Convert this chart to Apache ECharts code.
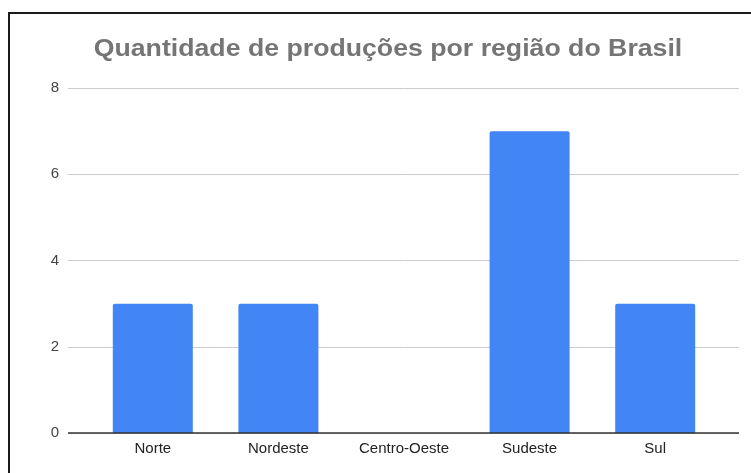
<!DOCTYPE html>
<html><head><meta charset="utf-8">
<script src="https://cdn.jsdelivr.net/npm/echarts@6/dist/echarts.min.js"></script>
<style>
html,body{margin:0;padding:0;background:#fff;}
#frame{position:absolute;left:8px;top:12px;width:800px;height:500px;border-top:2px solid #1a1a1a;border-left:2px solid #1a1a1a;}
#c{position:absolute;left:0;top:0;width:751px;height:473px;}
</style></head>
<body>
<div id="frame"></div>
<div id="c"></div>
<script>
const titleText = 'Quantidade de produções por região do Brasil';
const categories = ['Norte', 'Nordeste', 'Centro-Oeste', 'Sudeste', 'Sul'];
const values = [3, 3, 0, 7, 3];
const yTicks = [0, 2, 4, 6, 8];

const chart = echarts.init(document.getElementById('c'));
const font = 'Liberation Sans, Arial, sans-serif';
chart.setOption({
  animation: false,
  backgroundColor: 'transparent',
  graphic: [{
    type: 'text', x: 388, y: 50, scaleX: 1.16, scaleY: 1,
    style: {text: titleText, fontFamily: font, fontSize: 23, fontWeight: 'bold',
            fill: '#757575', align: 'center', verticalAlign: 'middle'}
  }],
  grid: [
    {left: 68, right: 12, top: 88, bottom: 40},
    {left: 90, right: 33, top: 88, bottom: 40}
  ],
  xAxis: [
    {gridIndex: 0, type: 'category', data: categories, show: false},
    {gridIndex: 1, type: 'category', data: categories,
     axisLine: {show: false}, axisTick: {show: false},
     axisLabel: {fontFamily: font, fontSize: 15, color: '#222', margin: 8}}
  ],
  yAxis: [
    {gridIndex: 0, type: 'value', min: yTicks[0], max: yTicks[yTicks.length-1], interval: 2,
     axisLine: {show: false}, axisTick: {show: false},
     axisLabel: {fontFamily: font, fontSize: 15, color: '#444', margin: 9},
     splitLine: {lineStyle: {color: '#cccccc', width: 1}}},
    {gridIndex: 1, type: 'value', min: 0, max: 8, interval: 2, show: false, splitLine: {show: false}}
  ],
  series: [
    {type: 'line', xAxisIndex: 0, yAxisIndex: 0, data: [], silent: true,
     markLine: {symbol: 'none', silent: true, label: {show: false},
       lineStyle: {color: '#333', width: 1.5, type: 'solid'}, data: [{yAxis: 0}]}},
    {type: 'bar', xAxisIndex: 1, yAxisIndex: 1, data: values, barWidth: 80,
     itemStyle: {color: '#4285F4', borderRadius: [2, 2, 0, 0]}}
  ]
});
</script>
</body></html>
